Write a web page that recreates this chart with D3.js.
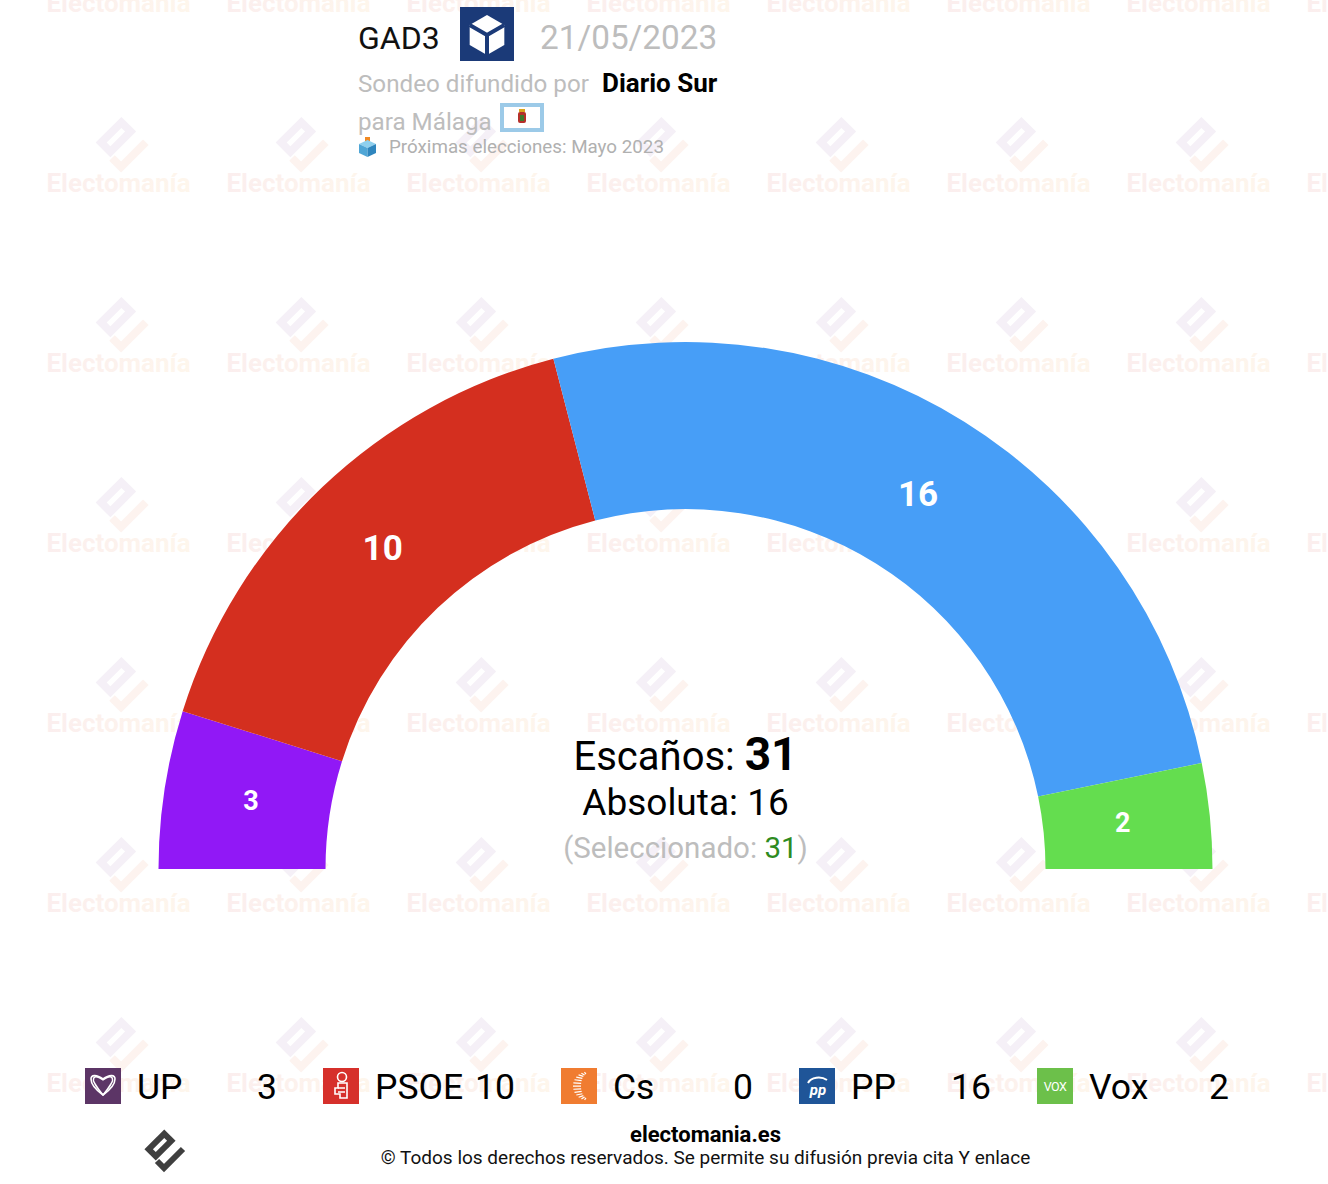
<!DOCTYPE html>
<html>
<head>
<meta charset="utf-8">
<script src="https://cdn.jsdelivr.net/npm/d3@7"></script>
<style>
  html,body{margin:0;padding:0;background:#fff;}
  svg{display:block;font-family:Roboto,"Noto Sans",sans-serif;}
</style>
</head>
<body>
<svg id="chart" width="1328" height="1184"></svg>
<script>
// ---- data ----
const parties = ["UP", "PSOE", "Cs", "PP", "Vox"];
const seats = [3, 10, 0, 16, 2];
const partyColors = ["#9118F6", "#D42F1F", "#F07C31", "#479EF7", "#64DD4F"];
const iconColors = ["#5C3566", "#D6302B", "#F07C31", "#1F5598", "#6CC04A"];
const totalSeats = 31;
const majority = 16;
const selected = 31;
const pollster = "GAD3";
const pollDate = "21/05/2023";
const mediaName = "Diario Sur";
const placeName = "Málaga";
const nextElection = "Próximas elecciones: Mayo 2023";

const W = 1328, H = 1184;
const svg = d3.select("#chart");
const defs = svg.append("defs");

// ---- watermark ----
const grad = defs.append("linearGradient").attr("id", "wmGrad").attr("x1", "0").attr("x2", "1");
grad.append("stop").attr("offset", "0").attr("stop-color", "#FBEEEE");
grad.append("stop").attr("offset", "1").attr("stop-color", "#FEF6EC");

function logoPath(g, diamondFill, slotFill, checkStroke) {
  g.append("rect").attr("x", -14).attr("y", -8).attr("width", 28).attr("height", 16)
    .attr("transform", "translate(18,17) rotate(-45)").attr("fill", diamondFill);
  g.append("rect").attr("x", -8).attr("y", -2).attr("width", 16).attr("height", 4)
    .attr("transform", "translate(18,17) rotate(-45)").attr("fill", slotFill);
  g.append("path").attr("d", "M15,33 L22,40 L41,21").attr("fill", "none")
    .attr("stroke", checkStroke).attr("stroke-width", 6).attr("stroke-linejoin", "miter");
}

const wm = svg.append("g").attr("class", "watermark");
const wmCols = d3.range(8).map(i => 118.5 + 180 * i);
const wmRows = d3.range(7).map(i => 12 + 180 * i);
wmRows.forEach(by => {
  wmCols.forEach(cx => {
    const ig = wm.append("g").attr("transform", `translate(${cx - 26},${by - 77}) scale(1.3)`);
    logoPath(ig, "#F5F0F7", "#fff", "#FDF3EF");
    wm.append("text").attr("x", cx).attr("y", by).attr("text-anchor", "middle")
      .attr("font-size", 26).attr("font-weight", 700).attr("fill", "url(#wmGrad)")
      .text("Electomanía");
  });
});

// ---- header ----
const hdr = svg.append("g");
hdr.append("text").attr("x", 358).attr("y", 49).attr("font-size", 32).attr("fill", "#111").text(pollster);
// GAD3 logo
const gl = hdr.append("g").attr("transform", "translate(460,7)");
gl.append("rect").attr("width", 54).attr("height", 54).attr("fill", "#1B3A78");
(function(){
  const c = [27, 28], r = 20;
  const pts = d3.range(6).map(i => {
    const a = (-90 + 60 * i) * Math.PI / 180;
    return [c[0] + r * Math.cos(a), c[1] + r * Math.sin(a)];
  });
  gl.append("path").attr("d", "M" + pts.map(p => p.join(",")).join("L") + "Z").attr("fill", "#fff");
  gl.append("path").attr("d", `M${c[0]},${c[1]}L${pts[5][0]},${pts[5][1]}M${c[0]},${c[1]}L${pts[1][0]},${pts[1][1]}M${c[0]},${c[1]}L${pts[3][0]},${pts[3][1]}`)
    .attr("stroke", "#1B3A78").attr("stroke-width", 4).attr("fill", "none");
})();
hdr.append("text").attr("x", 540).attr("y", 49).attr("font-size", 33.3).attr("fill", "#BDBDBD").text(pollDate);
const l2 = hdr.append("text").attr("x", 358).attr("y", 92).attr("font-size", 24.2).attr("fill", "#BDBDBD");
l2.append("tspan").text("Sondeo difundido por ");
l2.append("tspan").attr("x", 602).attr("font-size", 26).attr("font-weight", 700).attr("fill", "#000").text(mediaName);
hdr.append("text").attr("x", 358).attr("y", 130).attr("font-size", 24.2).attr("fill", "#BDBDBD").text("para " + placeName);
// flag
const fg = hdr.append("g").attr("transform", "translate(500,103)");
fg.append("rect").attr("x", 2).attr("y", 2).attr("width", 40).attr("height", 25).attr("fill", "#fff")
  .attr("stroke", "#9CCAE8").attr("stroke-width", 4);
fg.append("rect").attr("x", 18).attr("y", 9).attr("width", 8).attr("height", 11).attr("rx", 2).attr("fill", "#B5302A");
fg.append("rect").attr("x", 20).attr("y", 12).attr("width", 4).attr("height", 6).attr("fill", "#3F7A2E");
fg.append("rect").attr("x", 19).attr("y", 6).attr("width", 6).attr("height", 3).attr("fill", "#D9A520");
// ballot emoji
const be = hdr.append("g").attr("transform", "translate(358,137)");
be.append("rect").attr("x", 7).attr("y", 0).attr("width", 5).attr("height", 7).attr("fill", "#F08A24");
be.append("path").attr("d", "M1,7 L9.5,3 L18,7 L9.5,11 Z").attr("fill", "#8FD0EE");
be.append("path").attr("d", "M1,7 L9.5,11 L9.5,20 L1,16 Z").attr("fill", "#4FA6D6");
be.append("path").attr("d", "M18,7 L9.5,11 L9.5,20 L18,16 Z").attr("fill", "#2F86BE");
hdr.append("text").attr("x", 389).attr("y", 153).attr("font-size", 18.8).attr("fill", "#B0B0B0").text(nextElection);

// ---- hemicycle ----
const cx = 685.5, cy = 869, rOuter = 527, rInner = 360;
const data = parties.map((p, i) => ({ party: p, seats: seats[i], color: partyColors[i] }));
const pie = d3.pie().sort(null).value(d => d.seats).startAngle(-Math.PI / 2).endAngle(Math.PI / 2);
const arc = d3.arc().innerRadius(rInner).outerRadius(rOuter);
const labelArc = d3.arc().innerRadius((rInner + rOuter) / 2 - 4).outerRadius((rInner + rOuter) / 2 - 4);
const arcs = pie(data);
const hg = svg.append("g").attr("transform", `translate(${cx},${cy})`);
hg.selectAll("path.seg").data(arcs.filter(d => d.data.seats > 0)).join("path")
  .attr("class", "seg").attr("d", arc).attr("fill", d => d.data.color);
hg.selectAll("text.lbl").data(arcs.filter(d => d.data.seats > 0)).join("text")
  .attr("class", "lbl")
  .attr("transform", d => `translate(${labelArc.centroid(d)})`)
  .attr("text-anchor", "middle").attr("dy", "0.28em")
  .attr("font-weight", 700).attr("fill", "#fff")
  .attr("font-size", d => d.data.seats >= 5 ? 35 : 27)
  .text(d => d.data.seats);

// centre text
const ct = svg.append("g");
const t1 = ct.append("text").attr("x", cx).attr("y", 770).attr("text-anchor", "middle").attr("fill", "#000");
t1.append("tspan").attr("font-size", 40).text("Escaños: ");
t1.append("tspan").attr("font-size", 46).attr("font-weight", 700).text(totalSeats);
ct.append("text").attr("x", cx).attr("y", 815).attr("text-anchor", "middle").attr("font-size", 37).attr("fill", "#000")
  .text("Absoluta: " + majority);
const t3 = ct.append("text").attr("x", cx).attr("y", 858).attr("text-anchor", "middle").attr("font-size", 29.5).attr("fill", "#BDBDBD");
t3.append("tspan").text("(Seleccionado: ");
t3.append("tspan").attr("fill", "#2E8B1F").text(selected);
t3.append("tspan").text(")");

// ---- legend ----
const lg = svg.append("g");
const legX = d3.scalePoint().domain(parties).range([85, 1037]);
parties.forEach((p, i) => {
  const x0 = legX(p);
  const g = lg.append("g").attr("transform", `translate(${x0},1068)`);
  g.append("rect").attr("width", 36).attr("height", 36).attr("fill", iconColors[i]);
  if (p === "UP") {
    const heart = s => `M18,${27 - 0*s} C${18 - 11*s},${19} ${6 + (1 - s) * 6},${13} ${6 + (1-s)*6},${11 + (1-s)*3} C${6 + (1-s)*6},${7 + (1-s)*3} ${11},${6 + (1-s)*3} 18,${11 + (1-s)*2} C25,${6 + (1-s)*3} ${30 - (1-s)*6},${7 + (1-s)*3} ${30 - (1-s)*6},${11 + (1-s)*3} C${30 - (1-s)*6},${13} ${18 + 11*s},19 18,27 Z`;
    g.append("path").attr("d", heart(1)).attr("fill", "none").attr("stroke", "#fff").attr("stroke-width", 1.6);
    g.append("path").attr("d", heart(0.6)).attr("fill", "none").attr("stroke", "#fff").attr("stroke-width", 1.4);
  } else if (p === "PSOE") {
    g.append("circle").attr("cx", 19).attr("cy", 9).attr("r", 4.5).attr("fill", "none").attr("stroke", "#fff").attr("stroke-width", 1.6);
    g.append("path").attr("d", "M15,15 H24 V30 H17 V26 H12 V20 H15 Z").attr("fill", "none").attr("stroke", "#fff").attr("stroke-width", 1.6);
    g.append("path").attr("d", "M15,20 H22 M15,24 H22").attr("stroke", "#fff").attr("stroke-width", 1.4);
  } else if (p === "Cs") {
    d3.range(13).forEach(k => {
      const a = (100 + k * 13.3) * Math.PI / 180;
      g.append("line").attr("x1", 26 + 6 * Math.cos(a)).attr("y1", 18 + 12 * Math.sin(a))
        .attr("x2", 26 + 14 * Math.cos(a)).attr("y2", 18 + 14 * Math.sin(a))
        .attr("stroke", "#fff").attr("stroke-width", 1.2);
    });
  } else if (p === "PP") {
    g.append("path").attr("d", "M9,15 C12,9 22,8 28,12").attr("fill", "none").attr("stroke", "#fff").attr("stroke-width", 2);
    g.append("text").attr("x", 19).attr("y", 27).attr("text-anchor", "middle").attr("font-size", 15)
      .attr("font-weight", 700).attr("font-style", "italic").attr("fill", "#fff").text("pp");
  } else if (p === "Vox") {
    g.append("text").attr("x", 18).attr("y", 23).attr("text-anchor", "middle").attr("font-size", 12.5)
      .attr("fill", "#fff").attr("letter-spacing", -0.5).text("VOX");
  }
  lg.append("text").attr("x", x0 + 52).attr("y", 1099).attr("font-size", 35.5).attr("fill", "#000").text(p);
  lg.append("text").attr("x", x0 + 192).attr("y", 1099).attr("font-size", 35.5).attr("fill", "#000")
    .attr("text-anchor", "end").text(seats[i]);
});

// ---- footer ----
const fl = svg.append("g").attr("transform", "translate(142,1128)");
logoPath(fl, "#3F3F3F", "#fff", "#3F3F3F");
svg.append("text").attr("x", 705.5).attr("y", 1142).attr("text-anchor", "middle").attr("font-size", 22)
  .attr("font-weight", 700).attr("fill", "#000").text("electomania.es");
svg.append("text").attr("x", 705.5).attr("y", 1164).attr("text-anchor", "middle").attr("font-size", 19)
  .attr("fill", "#111").text("© Todos los derechos reservados. Se permite su difusión previa cita Y enlace");
</script>
</body>
</html>
